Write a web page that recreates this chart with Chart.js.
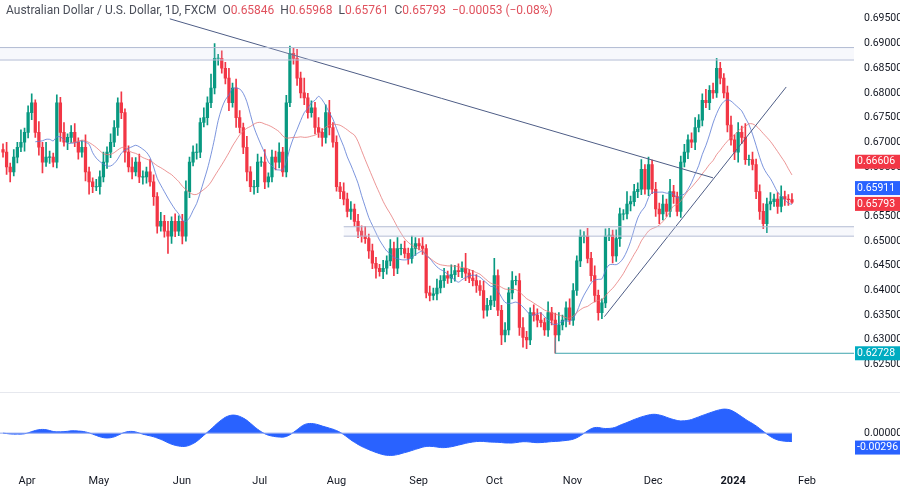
<!DOCTYPE html>
<html lang="en">
<head>
<meta charset="UTF-8">
<title>AUD/USD 1D</title>
<script src="https://cdn.jsdelivr.net/npm/chart.js"></script>
<style>
  body { margin: 0; background: #fff; font-family: Roboto, "DejaVu Sans", sans-serif; }
  #wrap { position: relative; width: 900px; height: 492px; }
  #head { position: absolute; left: 6px; top: 3px; font-size: 12px; color: #4a4e59; z-index: 2; background: rgba(255,255,255,0.6); }
  #head span { color: #e0525e; }
  #sep { position: absolute; left: 0; top: 392px; width: 900px; height: 1px; background: #e6e8ee; }
</style>
</head>
<body>
<div id="wrap">
  <div id="head">Australian Dollar / U.S. Dollar, 1D, FXCM &nbsp;O<span>0.65846</span> &nbsp;H<span>0.65968</span> &nbsp;L<span>0.65761</span> &nbsp;C<span>0.65793</span> &nbsp;<span>−0.00053 (−0.08%)</span></div>
  <canvas id="price" width="900" height="392" style="position:absolute;left:0;top:0"></canvas>
  <div id="sep"></div>
  <canvas id="osc" width="900" height="100" style="position:absolute;left:0;top:392px"></canvas>
</div>
<script>
// daily closes, one per trading day (late Mar 2023 .. late Jan 2024)
var closes = [
  0.668,0.665,0.664,0.667,0.669,0.670,0.672,0.676,0.678,0.672,0.669,
  0.666,0.667,0.667,0.666,0.678,0.672,0.670,0.671,0.672,0.670,
  0.668,0.669,0.664,0.662,0.661,0.661,0.663,0.666,0.668,0.670,
  0.673,0.678,0.676,0.668,0.665,0.664,0.666,0.663,0.663,0.664,
  0.662,0.659,0.653,0.654,0.652,0.651,0.654,0.652,0.654,0.651,
  0.660,0.666,0.668,0.668,0.674,0.675,0.678,0.681,0.687,0.687,
  0.685,0.683,0.678,0.681,0.675,0.673,0.669,0.664,0.661,0.661,
  0.666,0.666,0.662,0.663,0.667,0.666,0.668,0.664,0.678,0.688,
  0.687,0.683,0.680,0.679,0.676,0.677,0.673,0.672,0.671,0.676,
  0.673,0.670,0.661,0.660,0.6585,0.656,0.6565,0.654,0.652,0.651,
  0.6505,0.648,0.6455,0.6445,0.6438,0.6445,0.646,0.6485,0.6445,0.6485,
  0.6485,0.6475,0.6465,0.6485,0.6495,0.649,0.6485,0.6395,0.639,0.6393,
  0.6405,0.642,0.643,0.6425,0.6432,0.644,0.6438,0.6445,0.6435,0.6425,
  0.642,0.641,0.640,0.636,0.637,0.638,0.643,0.636,0.631,0.632,
  0.6395,0.642,0.642,0.6325,0.6305,0.630,0.6355,0.635,0.634,0.6335,
  0.632,0.6355,0.634,0.631,0.633,0.634,0.6365,0.634,0.640,0.646,
  0.651,0.651,0.6465,0.643,0.639,0.6355,0.6375,0.651,0.6512,0.647,
  0.6505,0.6555,0.6555,0.6575,0.658,0.660,0.6605,0.6645,0.6605,0.6655,
  0.6605,0.6565,0.6555,0.6575,0.656,0.660,0.659,0.656,0.666,0.668,
  0.6705,0.670,0.673,0.6745,0.6785,0.678,0.6805,0.680,0.685,0.683,
  0.680,0.6735,0.6705,0.668,0.672,0.671,0.6665,0.6665,0.6655,0.660,
  0.656,0.6535,0.6575,0.658,0.6585,0.657,0.659,0.6585,0.6584,0.6579
];
var firstOpen = 0.6685;
// upper / lower wick lengths in pips (0.0001)
var upWick = [
  12,20,8,15,10,25,9,14,18,6,22,10,30,12,8,16,11,20,7,14,
  18,9,13,25,10,8,15,12,20,11,17,14,10,22,8,13,19,9,16,12,
  10,25,14,8,18,12,20,9,15,11,14,22,10,13,17,9,20,12,28,30,
  8,15,12,20,10,18,14,9,22,11,13,16,10,25,8,14,12,19,10,15,
  15,10,18,12,30,9,14,11,20,8,16,25,10,13,9,18,12,15,10,14,
  11,20,9,14,12,8,16,10,18,13,22,9,15,11,25,12,10,17,8,14,
  12,18,10,15,9,20,11,14,13,30,8,16,12,10,19,14,9,35,12,10,
  15,11,18,9,14,20,12,10,16,13,15,9,22,11,14,25,10,12,18,14,
  10,13,9,16,12,20,11,8,15,14,10,18,12,9,25,11,15,13,20,10,
  15,9,14,12,18,10,25,13,9,12,16,10,14,20,11,13,22,10,15,20,
  12,9,14,18,10,20,13,28,9,15,11,14,16,12,18,10,13,22,11,9,12
];
var downWick = [
  10,15,20,8,12,9,18,11,14,10,16,22,9,13,10,12,18,8,15,11,
  9,14,10,18,25,12,8,15,10,13,11,9,16,12,20,10,14,8,12,15,
  13,9,18,14,10,12,35,15,11,9,16,10,12,8,14,11,9,15,10,12,
  14,10,12,16,9,20,11,13,18,10,15,12,9,14,11,10,16,12,9,10,
  8,12,15,10,14,11,9,13,10,18,12,15,10,9,14,12,11,16,10,13,
  12,10,15,11,20,9,14,12,10,15,11,13,9,12,10,14,8,12,10,11,
  9,12,10,14,11,9,13,10,12,15,9,11,14,10,16,12,9,13,11,20,
  14,10,12,9,16,20,18,10,12,14,9,11,13,10,37,12,10,14,9,11,
  10,12,14,9,11,13,15,12,10,9,14,11,16,12,10,14,9,12,11,10,
  13,9,15,20,12,10,11,14,9,12,10,13,11,15,9,12,10,14,11,9,
  12,10,14,11,15,20,13,10,12,11,14,16,10,18,12,10,14,11,13,12,3
];
// month ticks (trading-day index) and labels
var monthPos = [6.7, 26.7, 49.9, 71.6, 93, 115.9, 137, 158.8, 181.3, 203.6, 224.2];
var monthLabels = ['Apr', 'May', 'Jun', 'Jul', 'Aug', 'Sep', 'Oct', 'Nov', 'Dec', '2024', 'Feb'];
var priceTicks = [0.625,0.630,0.635,0.640,0.645,0.650,0.655,0.660,0.665,0.670,0.675,0.680,0.685,0.690,0.695];
// drawn levels and trend lines
var resistBand = [0.68918, 0.68666];
var supportBand = [0.65290, 0.65100];
var lowLevel = 0.62728;
var downTrend = [[46.5, 0.6950], [198, 0.6628]];
var upTrend = [[167.7, 0.6347], [218.4, 0.6812]];
// right-edge value tags (shift = pixel nudge so tags don't overlap)
var tags = [
  { v: 0.66606, text: '0.66606', color: '#f23645', shift: 0 },
  { v: 0.65911, text: '0.65911', color: '#2962ff', shift: -8 },
  { v: 0.65793, text: '0.65793', color: '#f23645', shift: 2 },
  { v: 0.62728, text: '0.62728', color: '#00acc1', shift: 0 }
];
var oscTag = '-0.00296';

var GREEN = '#089981', RED = '#f23645';
var X_MIN = -0.84, X_MAX = 237.3, LAST = closes.length - 1;

var bodies = [], wicks = [], colors = [];
closes.forEach(function (c, i) {
  var o = i === 0 ? firstOpen : closes[i - 1];
  var hi = Math.max(o, c) + upWick[i] / 10000;
  var lo = Math.min(o, c) - downWick[i] / 10000;
  var top = Math.max(o, c), bot = Math.min(o, c);
  if (top - bot < 0.00008) { top += 0.00004; bot -= 0.00004; }
  bodies.push({ x: i, y: [bot, top] });
  wicks.push({ x: i, y: [lo, hi] });
  colors.push(c >= o ? GREEN : RED);
});

function sma(n) {
  var out = [];
  for (var i = n - 1; i < closes.length; i++) {
    var s = 0;
    for (var k = i - n + 1; k <= i; k++) s += closes[k];
    out.push({ x: i, y: s / n });
  }
  return out;
}
function ema(n) {
  var a = 2 / (n + 1), e = closes[0], out = [];
  closes.forEach(function (c) { e = a * c + (1 - a) * e; out.push(e); });
  return out;
}
var e12 = ema(12), e26 = ema(26);
var macd = closes.map(function (c, i) { return e12[i] - e26[i]; });
var osc = [];
for (var i = 0; i < macd.length; i++) {
  var s = 0, n = 0;
  for (var k = Math.max(0, i - 4); k <= i; k++) { s += macd[k]; n++; }
  osc.push({ x: i, y: s / n });
}

function seg(y, x0, x1) { return [{ x: x0, y: y }, { x: x1 === undefined ? X_MAX : x1, y: y }]; }
function line(p) { return p.map(function (q) { return { x: q[0], y: q[1] }; }); }

var tickFont = { family: 'Roboto, DejaVu Sans', size: 10.5 };

var tagPlugin = {
  id: 'tags',
  afterDraw: function (chart) {
    var list = chart.canvas.id === 'price' ? tags :
      [{ v: osc[LAST].y, text: oscTag, color: '#2962ff', shift: 6 }];
    var ctx = chart.ctx, ys = chart.scales.y, x0 = chart.chartArea.right + 1;
    ctx.save();
    ctx.font = '10.5px Roboto, "DejaVu Sans"';
    ctx.textBaseline = 'middle';
    list.forEach(function (t) {
      var y = ys.getPixelForValue(t.v) + t.shift;
      ctx.fillStyle = t.color;
      ctx.fillRect(x0, y - 7, chart.width - x0, 14);
      ctx.fillStyle = '#fff';
      ctx.fillText(t.text, x0 + 2, y);
    });
    ctx.restore();
  }
};

function xScale(showTicks) {
  return {
    type: 'linear', min: X_MIN, max: X_MAX, display: showTicks, offset: false,
    grid: { display: false, offset: false }, border: { display: false },
    afterBuildTicks: function (ax) { ax.ticks = monthPos.map(function (p) { return { value: p }; }); },
    ticks: {
      autoSkip: false, maxRotation: 0, color: '#131722', padding: 4,
      font: function (c) { return c.index === 9 ? { family: 'Roboto', size: 11, weight: 'bold' } : { family: 'Roboto', size: 11 }; },
      callback: function (v, idx) { return monthLabels[idx]; }
    }
  };
}

new Chart(document.getElementById('price'), {
  data: {
    datasets: [
      { type: 'line', data: seg(resistBand[0], X_MIN), borderColor: '#b2bbd3', borderWidth: 1, pointRadius: 0, fill: '+1', backgroundColor: 'rgba(210,218,240,0.18)' },
      { type: 'line', data: seg(resistBand[1], X_MIN), borderColor: '#b2bbd3', borderWidth: 1, pointRadius: 0 },
      { type: 'line', data: seg(supportBand[0], 95), borderColor: '#b2bbd3', borderWidth: 1, pointRadius: 0, fill: '+1', backgroundColor: 'rgba(210,218,240,0.18)' },
      { type: 'line', data: seg(supportBand[1], 95), borderColor: '#b2bbd3', borderWidth: 1, pointRadius: 0 },
      { type: 'line', data: seg(lowLevel, 154), borderColor: '#3fa5ae', borderWidth: 1, pointRadius: 0 },
      { type: 'line', data: [{ x: 154, y: lowLevel }, { x: 154, y: 0.6305 }], borderColor: '#3fa5ae', borderWidth: 1, pointRadius: 0 },
      { type: 'line', data: line(downTrend), borderColor: '#4e5d86', borderWidth: 1, pointRadius: 0 },
      { type: 'line', data: line(upTrend), borderColor: '#4e5d86', borderWidth: 1, pointRadius: 0 },
      { type: 'line', data: sma(20), borderColor: 'rgba(229,115,115,0.75)', borderWidth: 1, pointRadius: 0, tension: 0.3 },
      { type: 'line', data: sma(10), borderColor: 'rgba(91,123,213,0.8)', borderWidth: 1, pointRadius: 0, tension: 0.3 },
      { type: 'bar', data: wicks, backgroundColor: colors, barThickness: 1, grouped: false },
      { type: 'bar', data: bodies, backgroundColor: colors, barThickness: 2.6, grouped: false }
    ]
  },
  options: {
    responsive: false, animation: false, events: [],
    layout: { padding: 0 },
    plugins: { legend: { display: false }, tooltip: { enabled: false } },
    scales: {
      x: xScale(false),
      y: {
        position: 'right', min: 0.62112, max: 0.69713,
        grid: { display: false }, border: { display: false },
        afterBuildTicks: function (ax) { ax.ticks = priceTicks.map(function (v) { return { value: v }; }); },
        afterFit: function (ax) { ax.width = 46; },
        ticks: { color: '#131722', font: tickFont, padding: 2, callback: function (v) { return v.toFixed(5); } }
      }
    }
  },
  plugins: [tagPlugin]
});

var oscMax = Math.max.apply(null, osc.map(function (p) { return p.y; }));
new Chart(document.getElementById('osc'), {
  data: {
    datasets: [
      { type: 'line', data: seg(0, X_MIN, LAST), borderColor: '#90a8f0', borderWidth: 1, pointRadius: 0 },
      { type: 'line', data: osc, borderColor: '#2962ff', borderWidth: 1, pointRadius: 0, fill: 'origin', backgroundColor: '#2962ff', tension: 0.3 }
    ]
  },
  options: {
    responsive: false, animation: false, events: [],
    layout: { padding: 0 },
    plugins: { legend: { display: false }, tooltip: { enabled: false } },
    scales: {
      x: xScale(true),
      y: {
        position: 'right', min: -oscMax * 37 / 30, max: oscMax * 41 / 30,
        grid: { display: false }, border: { display: false },
        afterBuildTicks: function (ax) { ax.ticks = [{ value: 0 }]; },
        afterFit: function (ax) { ax.width = 46; },
        ticks: { color: '#131722', font: tickFont, padding: 2, callback: function () { return '0.00000'; } }
      }
    }
  },
  plugins: [tagPlugin]
});
</script>
</body>
</html>
